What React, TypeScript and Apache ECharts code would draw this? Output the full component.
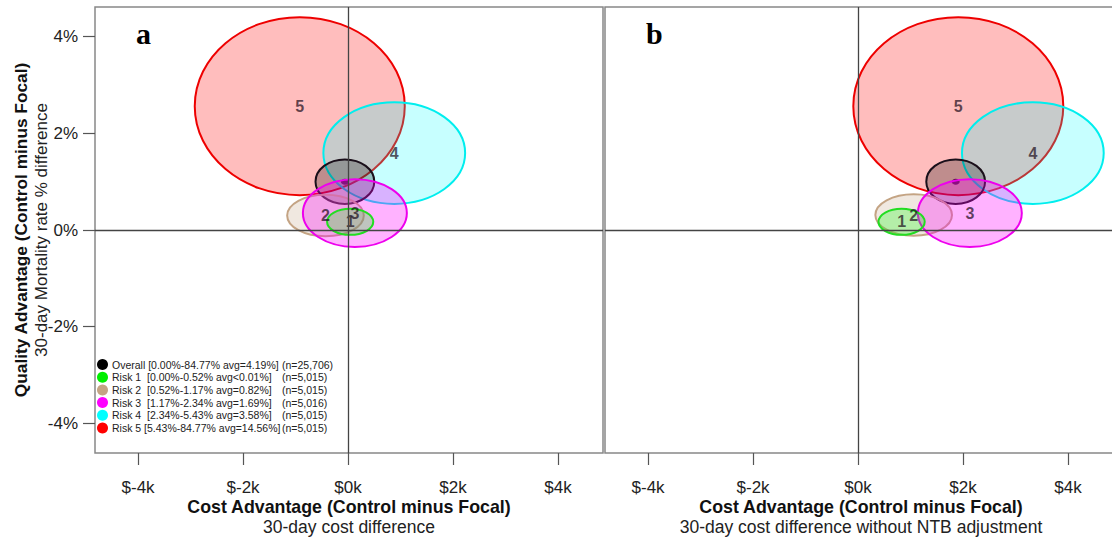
import React, { useEffect, useRef } from "react";
import * as echarts from "echarts";

const FONT = "'Liberation Sans', Arial, sans-serif";

const categories = ["Overall", "Risk 1", "Risk 2", "Risk 3", "Risk 4", "Risk 5"];
const legendRanges = [
  "Overall [0.00%-84.77% avg=4.19%]",
  "Risk 1  [0.00%-0.52% avg<0.01%]",
  "Risk 2  [0.52%-1.17% avg=0.82%]",
  "Risk 3  [1.17%-2.34% avg=1.69%]",
  "Risk 4  [2.34%-5.43% avg=3.58%]",
  "Risk 5 [5.43%-84.77% avg=14.56%]",
];
const legendCounts = ["(n=25,706)", "(n=5,015)", "(n=5,015)", "(n=5,016)", "(n=5,015)", "(n=5,015)"];
const pointLabels = ["", "1", "2", "3", "4", "5"];

// Panel a: 30-day cost difference ($k) / 30-day mortality difference (%)
const costA = [-0.06, 0.04, -0.43, 0.13, 0.88, -0.92];
const mortA = [1.0, 0.17, 0.3, 0.35, 1.59, 2.56];
// Panel b: cost difference without NTB adjustment
const costB = [1.86, 0.83, 1.06, 2.13, 3.33, 1.91];
const mortB = [1.0, 0.17, 0.31, 0.35, 1.59, 2.56];
// ellipse half-widths
const costSpread = [0.56, 0.44, 0.73, 0.99, 1.35, 2.0];
const mortSpread = [0.46, 0.27, 0.43, 0.7, 1.05, 1.84];

const xTicks = [-4, -2, 0, 2, 4];
const yTicks = [-4, -2, 0, 2, 4];

const strokes = ["#1a0f1a", "#22dd22", "#c4a484", "#ee00ee", "#00eeee", "#ee0000"];
const legendColors = ["#000000", "#00ee00", "#c4a484", "#ff00ff", "#00ffff", "#ff0000"];
const fills = [
  "rgba(0,0,0,0.25)",
  "rgba(0,255,0,0.25)",
  "rgba(196,164,132,0.25)",
  "rgba(255,0,255,0.3)",
  "rgba(0,255,255,0.22)",
  "rgba(255,0,0,0.26)",
];
const drawOrder = [5, 4, 0, 2, 3, 1];

function makeRender(i: number) {
  return (params: any, api: any) => {
    const c = api.coord([api.value(0), api.value(1)]);
    const s = api.size([api.value(2), api.value(3)]);
    const children: any[] = [
      {
        type: "ellipse",
        shape: { cx: c[0], cy: c[1], rx: s[0], ry: s[1] },
        style: { fill: fills[i], stroke: strokes[i], lineWidth: 2 },
      },
    ];
    if (i === 0) {
      children.push({
        type: "ellipse",
        shape: { cx: c[0], cy: c[1], rx: 4, ry: 3 },
        style: { fill: "rgba(70,0,60,0.85)" },
      });
    }
    return { type: "group", children };
  };
}

export default function App() {
  const ref = useRef<HTMLDivElement>(null);
  useEffect(() => {
    if (!ref.current) return;
    const chart = echarts.init(ref.current, undefined, { renderer: "svg" });

    const panels = [
      { cost: costA, mort: mortA },
      { cost: costB, mort: mortB },
    ];

    const series: any[] = [];
    panels.forEach((p, pi) => {
      series.push({
        type: "scatter",
        xAxisIndex: pi,
        yAxisIndex: pi,
        symbol: "circle",
        symbolSize: 0,
        z: 3,
        silent: true,
        itemStyle: { color: "#000" },
        label: {
          show: true,
          position: "inside",
          formatter: (d: any) => d.value[2],
          fontFamily: FONT,
          fontSize: 16,
          fontWeight: "bold",
          color: "rgba(25,10,25,0.88)",
          textBorderWidth: 0,
          textBorderColor: "transparent",
        },
        data: categories
          .map((_, i) => [p.cost[i], p.mort[i], pointLabels[i]])
          .filter((d) => d[2] !== ""),
        markLine: {
          silent: true,
          symbol: "none",
          label: { show: false },
          lineStyle: { color: "#444", width: 1.3, type: "solid" },
          data: [{ xAxis: 0 }, { yAxis: 0 }],
        },
      });
      drawOrder.forEach((i) => {
        series.push({
          type: "custom",
          name: categories[i],
          xAxisIndex: pi,
          yAxisIndex: pi,
          z: 2,
          silent: true,
          itemStyle: { color: legendColors[i] },
          renderItem: makeRender(i),
          data: [[p.cost[i], p.mort[i], costSpread[i], mortSpread[i]]],
        });
      });
    });

    const xAxisCommon = (name: string, sub: string, min: number, max: number, grid: number) => ({
      type: "value",
      gridIndex: grid,
      position: "bottom",
      min,
      max,
      splitLine: { show: false },
      axisLine: { show: false, onZero: false },
      axisTick: {
        show: true,
        customValues: xTicks,
        length: 12,
        inside: false,
        lineStyle: { color: "#555", width: 1.2 },
      },
      axisLabel: {
        customValues: xTicks,
        formatter: (v: number) => `$${v}k`,
        fontFamily: FONT,
        fontSize: 17,
        color: "#222",
        margin: 26,
      },
      name: `{t|${name}}\n{s|${sub}}`,
      nameLocation: "middle",
      nameGap: 44,
      nameMoveOverlap: false,
      nameTextStyle: {
        rich: {
          t: { fontFamily: FONT, fontSize: 17.8, fontWeight: "bold", color: "#111", lineHeight: 20 },
          s: { fontFamily: FONT, fontSize: 17.5, color: "#222", lineHeight: 20 },
        },
      },
    });

    const option: any = {
      animation: false,
      backgroundColor: "#fff",
      grid: [
        { left: 95, top: 7, width: 508, height: 446, show: true, borderColor: "#888", borderWidth: 1.5, outerBoundsMode: "none", containLabel: false },
        { left: 605, top: 7, width: 512, height: 446, show: true, borderColor: "#888", borderWidth: 1.5, outerBoundsMode: "none", containLabel: false },
      ],
      xAxis: [
        xAxisCommon("Cost Advantage (Control minus Focal)", "30-day cost difference", -4.82, 4.856, 0),
        xAxisCommon("Cost Advantage (Control minus Focal)", "30-day cost difference without NTB adjustment", -4.82, 4.933, 1),
      ],
      yAxis: [
        {
          type: "value",
          gridIndex: 0,
          position: "left",
          min: -4.61,
          max: 4.61,
          splitLine: { show: false },
          axisLine: { show: false, onZero: false },
          axisTick: {
            show: true,
            customValues: yTicks,
            length: 12,
            lineStyle: { color: "#555", width: 1.2 },
          },
          axisLabel: {
            customValues: yTicks,
            formatter: (v: number) => `${v}%`,
            fontFamily: FONT,
            fontSize: 17,
            color: "#222",
            margin: 17,
          },
          name: "{t|Quality Advantage (Control minus Focal)}\n{s|30-day Mortality rate % difference}",
          nameLocation: "middle",
          nameRotate: 90,
          nameGap: 44,
          nameMoveOverlap: false,
          nameTextStyle: {
            rich: {
              t: { fontFamily: FONT, fontSize: 17.3, fontWeight: "bold", color: "#111", lineHeight: 20 },
              s: { fontFamily: FONT, fontSize: 17, color: "#222", lineHeight: 20 },
            },
          },
        },
        {
          type: "value",
          gridIndex: 1,
          min: -4.61,
          max: 4.61,
          splitLine: { show: false },
          axisLine: { show: false, onZero: false },
          axisTick: { show: false },
          axisLabel: { show: false },
        },
      ],
      legend: {
        data: categories,
        orient: "vertical",
        left: 97,
        top: 359,
        icon: "circle",
        itemWidth: 11,
        itemHeight: 11,
        itemGap: 1.7,
        padding: 0,
        selectedMode: false,
        formatter: (name: string) => {
          const i = categories.indexOf(name);
          return `{a|${legendRanges[i]}}{b|${legendCounts[i]}}`;
        },
        textStyle: {
          fontFamily: FONT,
          fontSize: 10.5,
          color: "#222",
          padding: [0, 0, 0, -1],
          rich: {
            a: { fontFamily: FONT, fontSize: 10.5, color: "#222", width: 170, lineHeight: 12 },
            b: { fontFamily: FONT, fontSize: 10.5, color: "#222", lineHeight: 12 },
          },
        },
      },
      graphic: [
        {
          type: "text",
          left: 136,
          top: 18,
          style: { text: "a", font: "bold 30px 'Liberation Serif', 'Times New Roman', serif", fill: "#000" },
        },
        {
          type: "text",
          left: 646,
          top: 18,
          style: { text: "b", font: "bold 30px 'Liberation Serif', 'Times New Roman', serif", fill: "#000" },
        },
      ],
      series,
    };

    chart.setOption(option);
    return () => chart.dispose();
  }, []);

  return (
    <div
      ref={ref}
      style={{ position: "absolute", left: 0, top: 0, width: 1112, height: 542, background: "#fff" }}
    />
  );
}
